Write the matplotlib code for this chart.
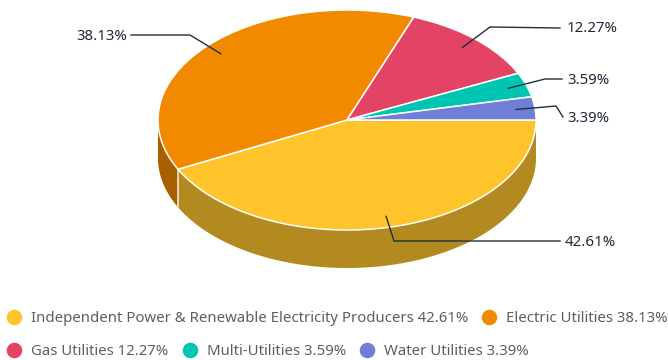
import numpy as np
import matplotlib
matplotlib.use("Agg")
import matplotlib.pyplot as plt

categories = ["Independent Power & Renewable Electricity Producers", "Electric Utilities",
              "Gas Utilities", "Multi-Utilities", "Water Utilities"]
values = [42.61, 38.13, 12.27, 3.59, 3.39]
colors = ["#FFC42B", "#F28A00", "#E34365", "#00C5B2", "#6F7ED6"]
side_colors = ["#B38A20", "#A85F00", "#A1304A", "#008A7D", "#4E5896"]

W, H = 668, 360
CX, CY, RX, RY, DEPTH = 347, 120, 189, 110, 38
plt.rcParams["font.family"] = ["Noto Sans", "DejaVu Sans"]

fig = plt.figure(figsize=(W / 100, H / 100), dpi=100, facecolor="white")
ax = fig.add_axes([0, 0, 1, 1])
ax.set_xlim(0, W)
ax.set_ylim(H, 0)
ax.axis("off")

edges = np.cumsum([0] + values) / sum(values) * 2 * np.pi


def px(t, r=1.0, dy=0.0):
    return CX + RX * r * np.cos(t), CY + RY * r * np.sin(t) + dy


# extruded walls: only the front half (0..pi) is visible
for i in range(len(values)):
    a, b = edges[i], min(edges[i + 1], np.pi)
    if a >= np.pi:
        continue
    t = np.linspace(a, b, 120)
    x, y = px(t)
    xb, yb = px(t[::-1], dy=DEPTH)
    ax.fill(np.r_[x, xb], np.r_[y, yb], color=side_colors[i], lw=0, zorder=1)
# seam between the two front walls
sx, sy = px(edges[1])
ax.plot([sx, sx], [sy, sy + DEPTH], color="#EFE6CF", lw=1.2, zorder=2)

# top faces
for i in range(len(values)):
    t = np.linspace(edges[i], edges[i + 1], 150)
    x, y = px(t)
    ax.fill(np.r_[CX, x], np.r_[CY, y], facecolor=colors[i], edgecolor="white",
            lw=1.1, joinstyle="round", zorder=3)

# leaders: elbow and end in pixels, start on the slice's mid angle
elbows = [((394, 241), (560, 241)), ((190, 35), (131, 35)), ((490, 27), (560, 28)),
          ((545, 79), (562, 79)), ((556, 106), (563, 117))]
labels_xy = [(565, 242, "left"), (127, 37, "right"), (567, 29, "left"),
             (567, 81, "left"), (567, 118, "left")]
for i, v in enumerate(values):
    mid = (edges[i] + edges[i + 1]) / 2
    x0, y0 = px(mid, 0.9)
    (x1, y1), (x2, y2) = elbows[i]
    ax.plot([x0, x1, x2], [y0, y1, y2], color="#1F2F3D", lw=1.0, zorder=4,
            solid_joinstyle="miter")
    lx, ly, ha = labels_xy[i]
    ax.text(lx, ly, f"{v:.2f}%", ha=ha, va="center", fontsize=10.8, color="#1F2A36", zorder=5)

# legend
legend_pos = [(14, 317), (489, 317), (14, 350), (190, 350), (367, 350)]
for (lx, ly), name, v, c in zip(legend_pos, categories, values, colors):
    ax.scatter([lx], [ly], s=125, color=c, lw=0, zorder=5)
    ax.text(lx + 17, ly + 1.5, f"{name} {v:.2f}%", ha="left", va="center", fontsize=10.75,
            color="#5A5F66", zorder=5)

fig.savefig("out.png", dpi=100, facecolor="white")
